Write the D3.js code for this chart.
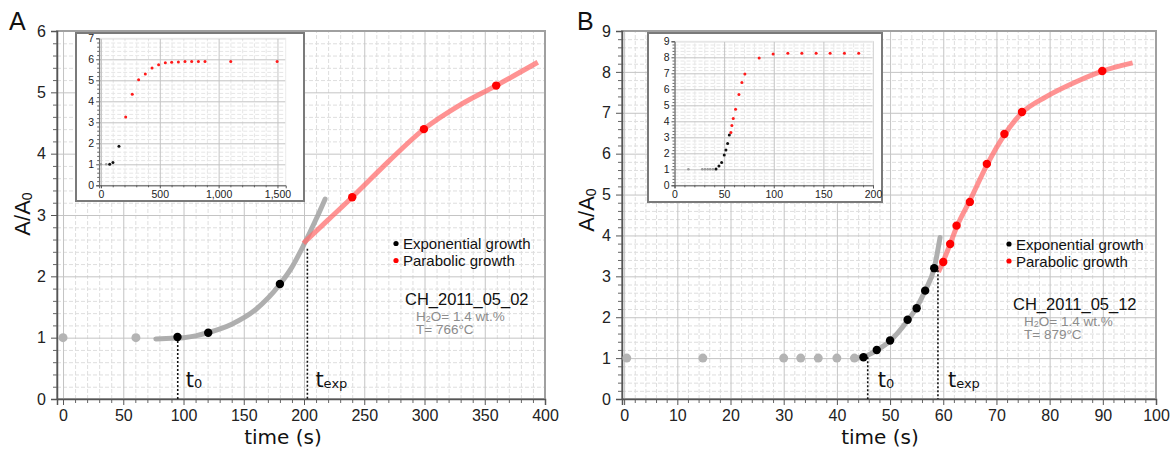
<!DOCTYPE html>
<html>
<head>
<meta charset="utf-8">
<script src="https://cdn.jsdelivr.net/npm/d3@7"></script>
<style>
body { margin: 0; background: #fff; }
svg { display: block; }
text { font-family: "Liberation Sans", Arial, sans-serif; }
</style>
</head>
<body>
<div id="chart"></div>
<script>
// ---- panel A (CH_2011_05_02) ----
const aGray = [[0, 1], [60.5, 1]];
const aExp = [[95, 1.01], [120.5, 1.08], [180, 1.875]];
const aPar = [[240, 3.29], [299.5, 4.40], [359.5, 5.11]];
const aExpFit = [[77, 0.98], [90, 0.99], [100, 1.0], [110, 1.03], [120, 1.08], [140, 1.22], [160, 1.46], [180, 1.87], [190, 2.15], [200, 2.52], [210, 2.93], [217.5, 3.26]];
const aParFit = [[199.5, 2.54], [220, 2.92], [240, 3.29], [270, 3.87], [299.5, 4.40], [330, 4.80], [359.5, 5.11], [394, 5.49]];
const aMarks = [[95.2, 1.01], [202.8, 2.45]];
// inset A
const aInGray = [[0, 1], [45, 1]];
const aInExp = [[74, 1], [102, 1.08], [153, 1.86]];
const aInPar = [[210, 3.25], [266, 4.33], [320, 5.03], [377, 5.30], [434, 5.59], [490, 5.74], [547, 5.83], [601, 5.86], [658, 5.87], [714, 5.9], [771, 5.9], [828, 5.9], [884, 5.9], [1103, 5.9], [1497, 5.9]];

// ---- panel B (CH_2011_05_12) ----
const bGray = [[0.5, 1], [14.8, 1], [30, 1], [33.2, 1], [36.5, 1], [40, 1], [43.3, 1]];
const bExp = [[45, 1.02], [47.5, 1.2], [50, 1.43], [53.3, 1.94], [55, 2.22], [56.6, 2.65], [58.3, 3.2]];
const bPar = [[60, 3.35], [61.3, 3.79], [62.5, 4.24], [65, 4.82], [68.2, 5.75], [71.5, 6.48], [74.8, 7.02], [89.9, 8.02]];
const bExpFit = [[43.1, 0.99], [45, 1.03], [47.5, 1.19], [50, 1.42], [53.3, 1.92], [55, 2.24], [56.6, 2.65], [58.3, 3.2], [59.4, 3.95]];
const bParFit = [[59.1, 3.11], [60, 3.37], [61.3, 3.79], [62.5, 4.2], [65, 4.85], [68.2, 5.72], [71.5, 6.46], [74.8, 7.0], [79.3, 7.39], [85, 7.76], [89.9, 8.02], [95.6, 8.22]];
const bMarks = [[45.8, 1.02], [59.0, 3.15]];
// inset B
const bInGray = [[0.5, 1], [14, 1], [28, 1], [30.7, 1], [33.4, 1], [36, 1], [38.7, 1]];
const bInExp = [[41.8, 1.02], [44.8, 1.2], [47.5, 1.42], [50.1, 1.9], [51.8, 2.2], [53.5, 2.62], [55.2, 3.15]];
const bInPar = [[56.8, 3.3], [57.8, 3.74], [59.2, 4.18], [61.5, 4.75], [64.9, 5.68], [67.9, 6.43], [70.9, 6.96], [85.3, 7.96], [99.4, 8.2], [114.2, 8.26], [128.3, 8.26], [142.7, 8.26], [156.8, 8.26], [171.2, 8.26], [185.6, 8.26]];

const legendLabels = ["Exponential growth", "Parabolic growth"];
const sampleNames = ["CH_2011_05_02", "CH_2011_05_12"];
const waterText = ["= 1.4 wt.%", "= 1.4 wt.%"];
const tempText = ["T= 766°C", "T= 879°C"];

const svg = d3.select("#chart").append("svg")
  .attr("width", 1176).attr("height", 451);

function grid(g, x, y, o) {
  const [x0, x1] = x.range(), [y0, y1] = y.range();
  const w = x1 - x0, h = y0 - y1;
  const inDom = (d, s) => d3.range(Math.ceil(d[0] / s) * s, d[1] + 1e-9, s).map(v => +v.toFixed(6));
  const xMaj = inDom(x.domain(), o.xMajor), yMaj = inDom(y.domain(), o.yMajor);
  const xMin = inDom(x.domain(), o.xMinor).filter(v => !xMaj.includes(v));
  const yMin = inDom(y.domain(), o.yMinor).filter(v => !yMaj.some(m => Math.abs(m - v) < 1e-6));

  g.append("rect").attr("x", x0).attr("y", y1).attr("width", w).attr("height", h).attr("fill", "#fff");

  // minor grid, dashed
  g.append("g").attr("transform", `translate(0,${y0})`)
    .call(d3.axisBottom(x).tickValues(xMin).tickSize(-h).tickFormat(""))
    .call(s => s.select(".domain").remove())
    .call(s => s.selectAll("line").attr("stroke", o.minorCol).attr("stroke-dasharray", "4,2"));
  g.append("g").attr("transform", `translate(${x0},0)`)
    .call(d3.axisLeft(y).tickValues(yMin).tickSize(-w).tickFormat(""))
    .call(s => s.select(".domain").remove())
    .call(s => s.selectAll("line").attr("stroke", o.minorCol).attr("stroke-dasharray", "4,2"));
  // major grid
  g.append("g").attr("transform", `translate(0,${y0})`)
    .call(d3.axisBottom(x).tickValues(xMaj).tickSize(-h).tickFormat(""))
    .call(s => s.select(".domain").remove())
    .call(s => s.selectAll("line").attr("stroke", "#c4c4c4"));
  g.append("g").attr("transform", `translate(${x0},0)`)
    .call(d3.axisLeft(y).tickValues(yMaj).tickSize(-w).tickFormat(""))
    .call(s => s.select(".domain").remove())
    .call(s => s.selectAll("line").attr("stroke", "#c4c4c4"));

  // frame
  g.append("rect").attr("x", x0).attr("y", y1).attr("width", w).attr("height", h)
    .attr("fill", "none").attr("stroke", o.frame).attr("stroke-width", o.frameW);

  // minor ticks
  g.append("g").attr("transform", `translate(0,${y0})`)
    .call(d3.axisBottom(x).tickValues(xMin).tickSize(o.minorLen).tickFormat(""))
    .call(s => s.select(".domain").remove())
    .call(s => s.selectAll("line").attr("stroke", "#666"));
  g.append("g").attr("transform", `translate(${x0},0)`)
    .call(d3.axisLeft(y).tickValues(yMin).tickSize(o.minorLen).tickFormat(""))
    .call(s => s.select(".domain").remove())
    .call(s => s.selectAll("line").attr("stroke", "#666"));
  // major ticks + labels
  const xa = g.append("g").attr("transform", `translate(0,${y0})`)
    .call(d3.axisBottom(x).tickValues(xMaj).tickSize(o.majorLen).tickPadding(o.pad).tickFormat(o.xFmt || d3.format("d")))
    .call(s => s.select(".domain").attr("stroke", "#555").attr("stroke-width", o.axisW));
  xa.selectAll("line").attr("stroke", "#555");
  xa.selectAll("text").attr("font-size", o.font).attr("fill", "#222").style("font-family", "Liberation Sans, Arial, sans-serif");
  const ya = g.append("g").attr("transform", `translate(${x0},0)`)
    .call(d3.axisLeft(y).tickValues(yMaj).tickSize(o.majorLen).tickPadding(o.pad).tickFormat(d3.format("d")))
    .call(s => s.select(".domain").attr("stroke", "#555").attr("stroke-width", o.axisW));
  ya.selectAll("line").attr("stroke", "#555");
  ya.selectAll("text").attr("font-size", o.font).attr("fill", "#222").style("font-family", "Liberation Sans, Arial, sans-serif");
}

function dots(g, data, x, y, r, color) {
  g.append("g").selectAll("circle").data(data).join("circle")
    .attr("cx", d => x(d[0])).attr("cy", d => y(d[1]))
    .attr("r", r).attr("fill", color);
}

function panel(p) {
  const g = svg.append("g");
  const x = d3.scaleLinear().domain(p.xDom).range(p.xRange);
  const y = d3.scaleLinear().domain(p.yDom).range(p.yRange);
  grid(g, x, y, {xMajor: p.xMajor, xMinor: p.xMinor, yMajor: 1, yMinor: 0.2, minorCol: "#dedede",
    frame: "#a0a0a0", frameW: 2, axisW: 1.5, majorLen: 6, minorLen: 4, pad: 5, font: 16});

  const line = d3.line().x(d => x(d[0])).y(d => y(d[1])).curve(d3.curveMonotoneX);

  // inset
  const ib = p.inBox;
  g.append("rect").attr("x", ib[0]).attr("y", ib[1]).attr("width", ib[2]).attr("height", ib[3])
    .attr("fill", "#fff").attr("stroke", "#7a7a7a").attr("stroke-width", 2);
  const ix = d3.scaleLinear().domain(p.inXDom).range(p.inXRange);
  const iy = d3.scaleLinear().domain(p.inYDom).range(p.inYRange);
  const ig = g.append("g");
  grid(ig, ix, iy, {xMajor: p.inXMajor, xMinor: p.inXMinor, yMajor: 1, yMinor: 0.2, minorCol: "#e6e6e6",
    frame: "#ececec", frameW: 1, axisW: 1, majorLen: 3, minorLen: 2, pad: 2, font: 10.5, xFmt: d3.format(",")});
  dots(ig, p.inGray, ix, iy, 1.3, "#999");
  dots(ig, p.inExp, ix, iy, 1.5, "#111");
  dots(ig, p.inPar, ix, iy, 1.5, "#ff1a1a");

  // fitted curves
  g.append("path").datum(p.expFit).attr("d", line)
    .attr("fill", "none").attr("stroke", "#a6a6a6").attr("stroke-opacity", 0.9)
    .attr("stroke-width", 5).attr("stroke-linecap", "round");
  g.append("path").datum(p.parFit).attr("d", line)
    .attr("fill", "none").attr("stroke", "#ff6f6f").attr("stroke-opacity", 0.75)
    .attr("stroke-width", 5);

  // t0 / texp markers
  g.append("g").selectAll("line").data(p.marks).join("line")
    .attr("x1", d => x(d[0])).attr("x2", d => x(d[0]))
    .attr("y1", d => y(d[1])).attr("y2", y(0))
    .attr("stroke", "#111").attr("stroke-width", 1.6).attr("stroke-dasharray", "2,2");
  g.append("g").selectAll("text").data(p.marks).join("text")
    .attr("x", d => x(d[0]) + p.markDx).attr("y", 387)
    .style("font-family", "DejaVu Sans, sans-serif").attr("font-size", 21).attr("fill", "#111")
    .text("t")
    .append("tspan").attr("font-size", 13).attr("dy", 1).text((d, i) => i === 0 ? "0" : "exp");

  dots(g, p.gray, x, y, 4.5, "#b4b4b4");
  dots(g, p.exp, x, y, 4.2, "#000");
  dots(g, p.par, x, y, 4.2, "#ff0000");

  // legend
  const lg = g.append("g").attr("transform", `translate(${p.legend[0]},${p.legend[1]})`);
  lg.selectAll("circle").data(legendLabels).join("circle")
    .attr("cx", 0).attr("cy", (d, i) => i * 17).attr("r", 2.6)
    .attr("fill", (d, i) => i === 0 ? "#000" : "#ff0000");
  lg.selectAll("text").data(legendLabels).join("text")
    .attr("x", 7).attr("y", (d, i) => i * 17 + 5.5)
    .attr("font-size", 15).attr("fill", "#111").text(d => d);

  // sample info
  const ti = g.append("g").attr("transform", `translate(${p.info[0]},${p.info[1]})`);
  ti.append("text").attr("x", 0).attr("y", 0).attr("font-size", 16.5).attr("fill", "#111").text(sampleNames[p.k]);
  const w = ti.append("text").attr("x", 11).attr("y", 16).attr("font-size", 13.5).attr("fill", "#8c8c8c");
  w.append("tspan").text("H");
  w.append("tspan").attr("font-size", 9).attr("dy", 1).text("2");
  w.append("tspan").attr("dy", -1).text("O" + waterText[p.k]);
  ti.append("text").attr("x", 11).attr("y", 29).attr("font-size", 13.5).attr("fill", "#8c8c8c").text(tempText[p.k]);

  // axis titles
  svg.append("text").attr("x", p.xTitle).attr("y", 444).attr("text-anchor", "middle")
    .style("font-family", "DejaVu Sans, sans-serif").attr("font-size", 20).attr("fill", "#111").text("time (s)");
  const yt = svg.append("text").attr("transform", `translate(${p.yTitle[0]},${p.yTitle[1]}) rotate(-90)`)
    .attr("text-anchor", "middle").attr("font-size", 22).attr("fill", "#111");
  yt.append("tspan").text("A/A");
  yt.append("tspan").attr("font-size", 14).attr("dy", 2).text("0");
  svg.append("text").attr("x", p.letter[0]).attr("y", p.letter[1]).attr("font-size", 25).attr("fill", "#111").text(p.k === 0 ? "A" : "B");
}

panel({
  k: 0, xDom: [-5, 400], xRange: [57, 545], yDom: [0, 6], yRange: [399, 31], xMajor: 50, xMinor: 10,
  gray: aGray, exp: aExp, par: aPar, expFit: aExpFit, parFit: aParFit, marks: aMarks, markDx: 8,
  inBox: [76, 33, 228, 168], inXDom: [-15, 1570], inXRange: [99.2, 285.7], inYDom: [0, 7], inYRange: [185.3, 38.3],
  inXMajor: 500, inXMinor: 100, inGray: aInGray, inExp: aInExp, inPar: aInPar,
  legend: [396, 243.5], info: [405, 305], xTitle: 283, yTitle: [30, 214], letter: [9, 30]
});
panel({
  k: 1, xDom: [-0.4, 100], xRange: [622, 1156], yDom: [0, 9], yRange: [399, 31], xMajor: 10, xMinor: 2,
  gray: bGray, exp: bExp, par: bPar, expFit: bExpFit, parFit: bParFit, marks: bMarks, markDx: 10,
  inBox: [648, 33, 234, 169], inXDom: [0, 200], inXRange: [674.5, 873], inYDom: [0, 9], inYRange: [185.3, 41.3],
  inXMajor: 50, inXMinor: 10, inGray: bInGray, inExp: bInExp, inPar: bInPar,
  legend: [1009, 244], info: [1013, 310], xTitle: 880, yTitle: [594, 210], letter: [577, 30]
});
</script>
</body>
</html>
